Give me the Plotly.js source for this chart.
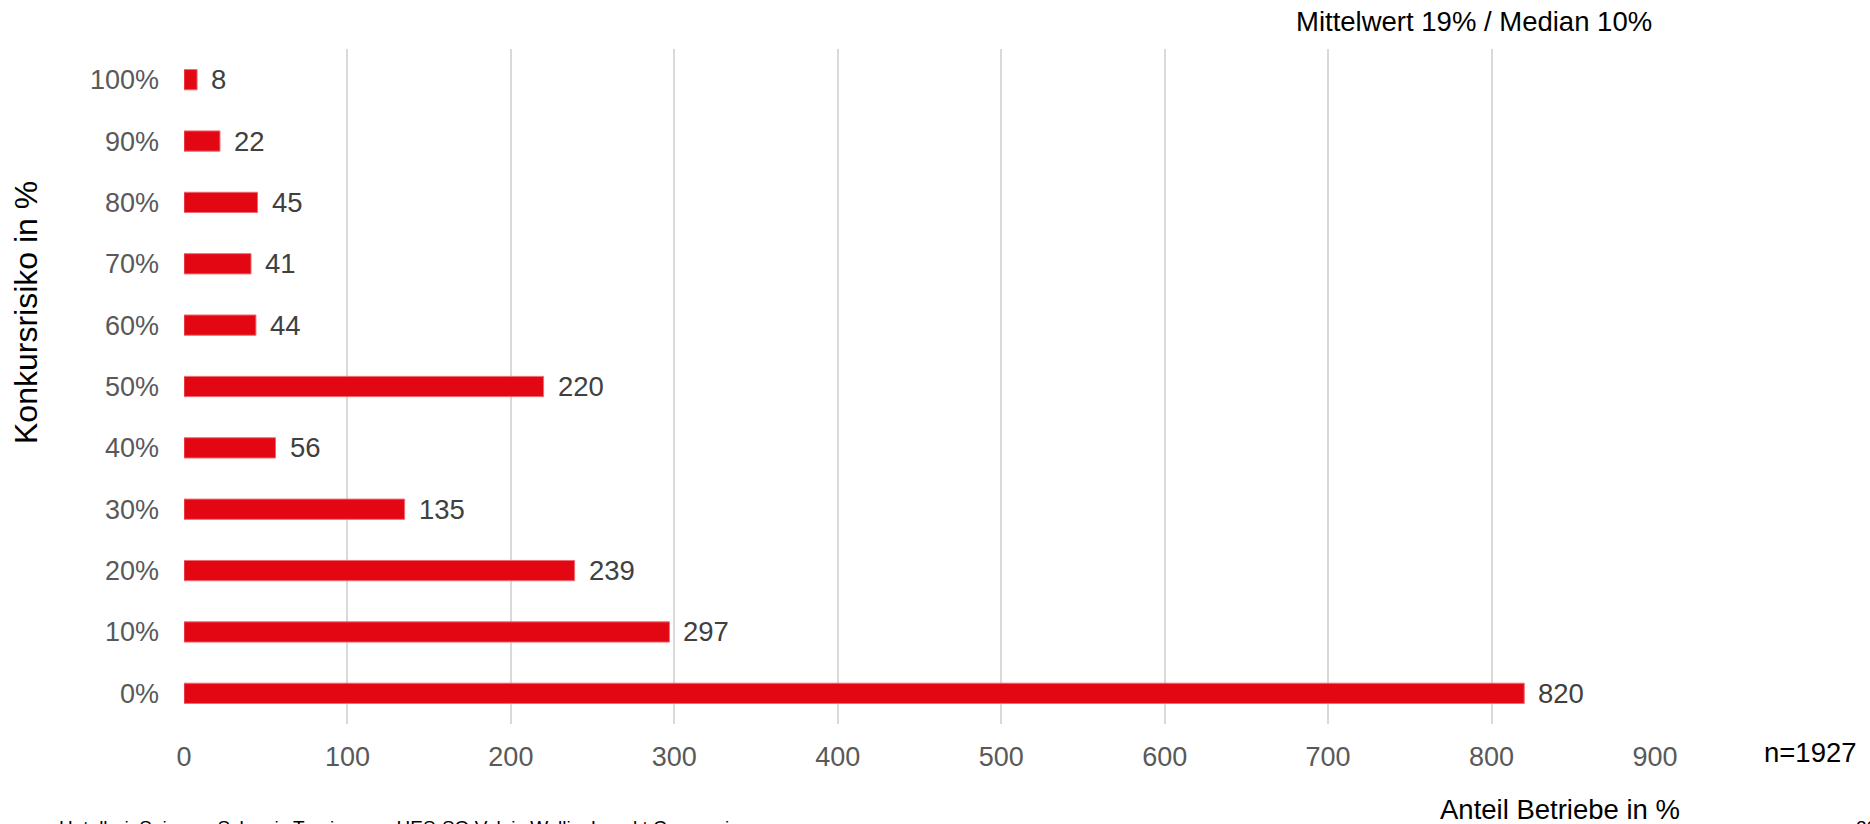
<!DOCTYPE html>
<html>
<head>
<meta charset="utf-8">
<script src="https://cdn.plot.ly/plotly-3.0.1.min.js"></script>
<style>
html,body{margin:0;padding:0;background:#fff;}
#chart{width:1870px;height:824px;}
</style>
</head>
<body>
<div id="chart"></div>
<script>
const categories = ["0%","10%","20%","30%","40%","50%","60%","70%","80%","90%","100%"];
const counts = [820, 297, 239, 135, 56, 220, 44, 41, 45, 22, 8];
const xTicks = [0,100,200,300,400,500,600,700,800,900];

const FONT = "Liberation Sans, Arial, sans-serif";

const trace = {
  type: "bar",
  orientation: "h",
  x: counts,
  y: categories,
  marker: {color: "#E30613", line: {color: "#EF6B73", width: 1}},
  hoverinfo: "x+y"
};

const labelAnns = counts.map((v, i) => ({
  x: v, y: categories[i], xref: "x", yref: "y",
  text: String(v), showarrow: false, xanchor: "left", yanchor: "middle",
  xshift: 12, font: {family: FONT, size: 27.5, color: "#404040"}
}));

const W = 1471, H = 675, L = 184, T = 49;
function px(x){return (x - L)/W;}
function py(y){return (T + H - y)/H;}

const textAnns = [
  {text: "Mittelwert 19% / Median 10%", x: px(1654), y: py(21), xanchor: "right", yanchor: "middle", size: 27.5},
  {text: "n=1927", x: px(1762), y: py(752), xanchor: "left", yanchor: "middle", size: 27.5},
  {text: "Anteil Betriebe in %", x: px(1560), y: py(809), xanchor: "center", yanchor: "middle", size: 27.5},
  {text: "Konkursrisiko in %", x: px(26), y: py(313), xanchor: "center", yanchor: "middle", size: 32, angle: -90},
  {text: "HotellerieSuisse – Schweiz Tourismus - HES-SO Valais Wallis: Impakt Coronavirus", x: px(57), y: py(815), xanchor: "left", yanchor: "top", size: 19},
  {text: "20", x: px(1854), y: py(815), xanchor: "left", yanchor: "top", size: 19}
].map(a => ({
  text: a.text, x: a.x, y: a.y, xref: "paper", yref: "paper",
  xanchor: a.xanchor, yanchor: a.yanchor, showarrow: false,
  textangle: a.angle || 0, font: {family: FONT, size: a.size, color: "#000000"}
}));

const layout = {
  width: 1870, height: 824,
  margin: {l: L, r: 1870 - L - W, t: T, b: 824 - T - H, pad: 0},
  paper_bgcolor: "#ffffff", plot_bgcolor: "#ffffff",
  showlegend: false,
  bargap: 0.67,
  font: {family: FONT, color: "#595959"},
  xaxis: {
    range: [0, 900], tickvals: xTicks, ticktext: xTicks.map(String),
    showgrid: true, gridcolor: "#D9D9D9", gridwidth: 2,
    zeroline: false, showline: false, ticks: "",
    tickfont: {family: FONT, size: 27, color: "#595959"},
    ticklabelstandoff: 14, fixedrange: true
  },
  yaxis: {
    type: "category", range: [-0.5, 10.5],
    showgrid: false, zeroline: false, showline: false, ticks: "",
    tickfont: {family: FONT, size: 27, color: "#595959"},
    ticklabelstandoff: 24, fixedrange: true
  },
  annotations: labelAnns.concat(textAnns)
};

Plotly.newPlot("chart", [trace], layout, {displayModeBar: false, staticPlot: true});
</script>
</body>
</html>
